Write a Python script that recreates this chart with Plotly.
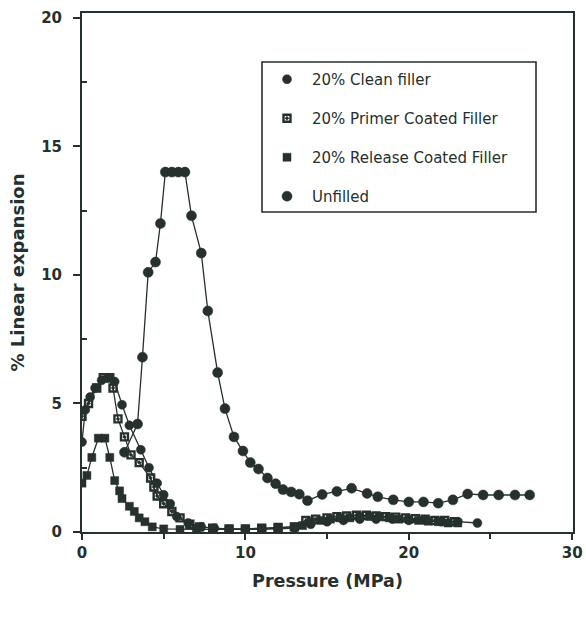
import plotly.graph_objects as go

# Linear expansion (%) versus applied pressure (MPa) for four compositions
clean_x = [0.0, 0.2, 0.5, 0.8, 1.2, 1.6, 2.0, 2.45, 2.9, 3.6, 4.1, 4.6, 5.0, 5.4, 5.8, 6.5,
           7.3, 8.1, 9.0, 10.0, 11.0, 12.0, 13.0, 14.0, 15.0, 16.0, 17.0, 18.0, 19.0,
           20.0, 21.0, 22.0, 23.0, 24.2]
clean_y = [3.5, 4.75, 5.25, 5.6, 5.9, 6.0, 5.85, 4.95, 4.15, 3.2, 2.5, 1.9, 1.45, 1.1, 0.6, 0.35,
           0.2, 0.15, 0.1, 0.1, 0.1, 0.12, 0.15, 0.3, 0.4, 0.45, 0.5, 0.5, 0.5,
           0.45, 0.45, 0.4, 0.4, 0.35]

primer_x = [0.0, 0.4, 0.9, 1.3, 1.7, 1.9, 2.2, 2.6, 3.0, 3.5, 4.2, 4.4, 4.6, 5.0, 5.5, 6.0,
            6.6, 7.2, 8.0, 9.0, 10.0, 11.0, 12.0, 13.0, 13.7, 14.3, 15.0, 15.6, 16.2,
            16.8, 17.4, 18.0, 18.6, 19.2, 19.8, 20.4, 21.0, 21.6, 22.2, 22.8]
primer_y = [4.5, 5.0, 5.6, 6.0, 6.0, 5.6, 4.4, 3.7, 3.0, 2.7, 2.1, 1.75, 1.4, 1.1, 0.8, 0.55,
            0.3, 0.2, 0.15, 0.12, 0.12, 0.15, 0.18, 0.2, 0.45, 0.5, 0.55, 0.6, 0.62,
            0.65, 0.65, 0.62, 0.6, 0.58, 0.55, 0.52, 0.5, 0.45, 0.45, 0.4]

release_x = [0.0, 0.3, 0.6, 1.0, 1.4, 1.7, 2.0, 2.3, 2.45, 2.9, 3.2, 3.5, 3.85, 4.3, 5.0, 6.0,
             7.0, 8.0, 9.0, 10.0, 11.0, 12.0, 13.0, 13.5, 14.0, 14.6, 15.2, 15.8, 16.4,
             17.0, 17.6, 18.2, 18.8, 19.4, 20.0, 20.6, 21.2, 21.8, 22.4, 23.0]
release_y = [1.9, 2.2, 2.9, 3.65, 3.65, 2.9, 2.0, 1.6, 1.3, 1.0, 0.8, 0.55, 0.4, 0.2, 0.12, 0.1,
             0.1, 0.1, 0.1, 0.1, 0.12, 0.15, 0.2, 0.25, 0.4, 0.45, 0.5, 0.55, 0.55,
             0.6, 0.6, 0.6, 0.55, 0.5, 0.5, 0.45, 0.42, 0.4, 0.35, 0.35]

unfilled_x = [2.6, 3.4, 3.7, 4.05, 4.5, 4.8, 5.1, 5.5, 5.9, 6.3, 6.7, 7.3, 7.7, 8.3, 8.75,
              9.3, 9.85, 10.3, 10.8, 11.35, 11.85, 12.3, 12.8, 13.3, 13.8, 14.7, 15.6,
              16.5, 17.45, 18.1, 19.05, 20.0, 20.9, 21.8, 22.7, 23.6, 24.55, 25.5, 26.5, 27.4]
unfilled_y = [3.1, 4.2, 6.8, 10.1, 10.5, 12.0, 14.0, 14.0, 14.0, 14.0, 12.3, 10.85, 8.6, 6.2, 4.8,
              3.7, 3.15, 2.7, 2.45, 2.1, 1.88, 1.65, 1.56, 1.47, 1.22, 1.46, 1.58,
              1.7, 1.5, 1.37, 1.25, 1.17, 1.17, 1.12, 1.25, 1.48, 1.44, 1.44, 1.44, 1.44]

INK = "#26302c"
FONT = "DejaVu Sans"

series = [
    ("20% Clean filler", clean_x, clean_y, "circle", 9),
    ("20% Primer Coated Filler", primer_x, primer_y, "square-open-dot", 7),
    ("20% Release Coated Filler", release_x, release_y, "square", 8),
    ("Unfilled", unfilled_x, unfilled_y, "circle", 10),
]

fig = go.Figure()
# connecting lines first, kept out of the legend
for i, (name, xs, ys, sym, size) in enumerate(series):
    fig.add_trace(go.Scatter(
        x=xs, y=ys, mode="lines", showlegend=False, legendgroup=f"g{i}",
        line=dict(color=INK, width=1.3), hoverinfo="skip",
    ))
# symbols on top; these carry the legend entries
for i, (name, xs, ys, sym, size) in enumerate(series):
    open_sym = "open" in sym
    fig.add_trace(go.Scatter(
        x=xs, y=ys, name=name, mode="markers", legendgroup=f"g{i}",
        marker=dict(symbol=sym, size=size, color=INK,
                    line=dict(color=INK, width=2.4 if open_sym else 0.5)),
    ))

# Legend frame
fig.add_shape(type="rect", xref="paper", yref="paper",
              x0=(262 - 82) / 491, x1=(536 - 82) / 491,
              y0=(532 - 212) / 519, y1=(532 - 62) / 519,
              line=dict(color=INK, width=1.6), fillcolor="rgba(0,0,0,0)")

tickfont = dict(family=FONT, size=15, color=INK, weight="bold")
titlefont = dict(family=FONT, size=17.5, color=INK, weight="bold")

fig.update_layout(
    width=586, height=621,
    margin=dict(l=82, r=13, t=13, b=89, autoexpand=False),
    paper_bgcolor="white", plot_bgcolor="white",
    font=dict(family=FONT, color=INK),
    showlegend=True,
    legend=dict(x=(262 - 82) / 491, y=(532 - 63) / 519, xanchor="left", yanchor="top",
                bgcolor="rgba(0,0,0,0)", borderwidth=0, tracegroupgap=16.5, itemwidth=40,
                font=dict(family=FONT, size=15, color=INK)),
    xaxis=dict(range=[0, 30.05], tickvals=[0, 10, 20, 30], ticks="outside", ticklen=6,
               tickwidth=1.5, tickcolor=INK, showline=True, linecolor=INK, linewidth=2,
               mirror=True, showgrid=False, zeroline=False, tickfont=tickfont,
               automargin=False,
               minor=dict(tickvals=[5, 15, 25], ticks="outside", ticklen=5, tickwidth=1.5,
                          tickcolor=INK, showgrid=False),
               title=dict(text="Pressure (MPa)", standoff=14, font=titlefont)),
    yaxis=dict(range=[0, 20.19], tickvals=[0, 5, 10, 15, 20], ticks="outside", ticklen=7,
               tickwidth=1.5, tickcolor=INK, showline=True, linecolor=INK, linewidth=2,
               mirror=True, showgrid=False, zeroline=False, tickfont=tickfont,
               ticklabelstandoff=8, automargin=False,
               minor=dict(tickvals=[2.5, 7.5, 12.5, 17.5], ticks="inside", ticklen=5,
                          tickwidth=1.5, tickcolor=INK, showgrid=False),
               title=dict(text="% Linear expansion", standoff=12,
                          font=dict(family=FONT, size=18, color=INK, weight="bold"))),
)

fig.write_html("out.html")
